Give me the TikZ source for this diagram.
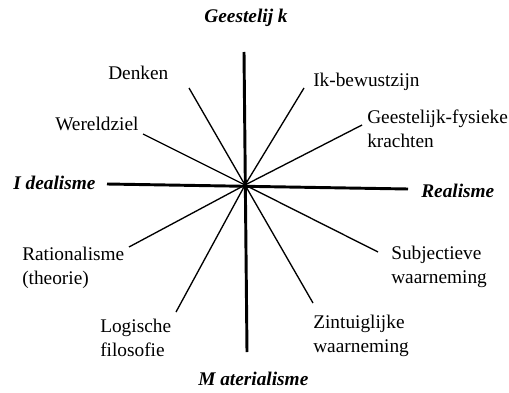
\documentclass[tikz,border=0pt]{standalone}
\usepackage{fontspec}
\setmainfont{Liberation Serif}
\begin{document}
\begin{tikzpicture}[x=0.75pt, y=-0.75pt]
    % Define styles
    \tikzstyle{axisline}=[line width=2.2pt]
    \tikzstyle{rayline}=[line width=1pt]
    \tikzstyle{polelabel}=[inner sep=0pt, font=\fontsize{14.5}{17.5}\selectfont\bfseries\itshape]
    \tikzstyle{raylabel}=[inner sep=0pt, align=left, font=\fontsize{14.5}{17.5}\selectfont]

    \useasboundingbox (0,0) rectangle (509,392);

    % Centre and ends of the two axes
    \coordinate (c) at (245,185);
    \coordinate (top) at (244,52);
    \coordinate (bot) at (247,352);
    \coordinate (lft) at (107,184);
    \coordinate (rgt) at (408,189);

    % Ends of the thin rays
    \coordinate (denkenend) at (189,88);
    \coordinate (ikend) at (304,88);
    \coordinate (wereldend) at (143,134);
    \coordinate (krachtend) at (362,125);
    \coordinate (ratioend) at (129,247);
    \coordinate (logend) at (176,312);
    \coordinate (zintend) at (313,303);
    \coordinate (subjend) at (378,252);

    % Axes
    \draw[axisline] (top) -- (bot);
    \draw[axisline] (lft) -- (rgt);

    % Rays
    \draw[rayline] (c) -- (denkenend);
    \draw[rayline] (c) -- (ikend);
    \draw[rayline] (c) -- (wereldend);
    \draw[rayline] (c) -- (krachtend);
    \draw[rayline] (c) -- (ratioend);
    \draw[rayline] (c) -- (logend);
    \draw[rayline] (c) -- (zintend);
    \draw[rayline] (c) -- (subjend);

    % Pole labels
    \node[polelabel, anchor=base] (geest) at (246,23) {Geestelij k};
    \node[polelabel, anchor=base west] (ideal) at (13,189) {I dealisme};
    \node[polelabel, anchor=base west] (real) at (421,197) {Realisme};
    \node[polelabel, anchor=base west] (mater) at (198,385) {M aterialisme};

    % Ray labels (base is the last line)
    \node[raylabel, anchor=base west] (denken) at (108,80) {Denken};
    \node[raylabel, anchor=base west] (ik) at (313,87) {Ik-bewustzijn};
    \node[raylabel, anchor=base west] (wereld) at (55,130) {Wereldziel};
    \node[raylabel, anchor=base west] (kracht) at (367,147) {Geestelijk-fysieke\\krachten};
    \node[raylabel, anchor=base west] (ratio) at (22,284) {Rationalisme\\(theorie)};
    \node[raylabel, anchor=base west] (logisch) at (100,356) {Logische\\filosofie};
    \node[raylabel, anchor=base west] (zintuig) at (313,352) {Zintuiglijke\\waarneming};
    \node[raylabel, anchor=base west] (subject) at (391,283) {Subjectieve\\waarneming};

\end{tikzpicture}
\end{document}
